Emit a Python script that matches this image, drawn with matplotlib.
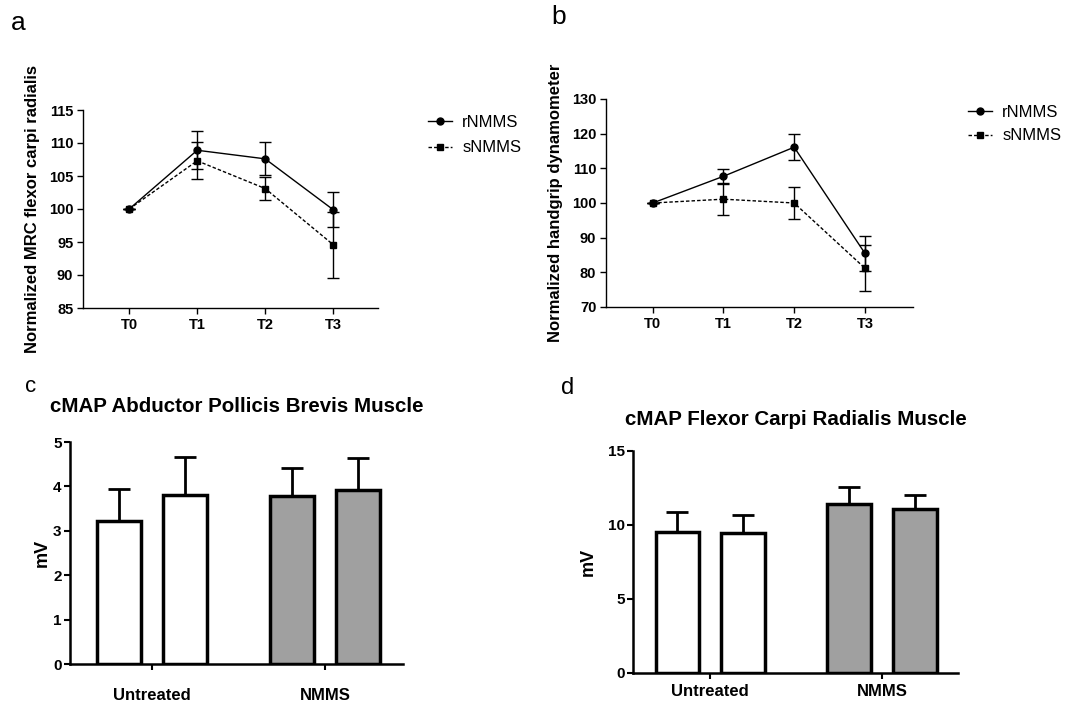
import matplotlib
matplotlib.use("Agg")
import matplotlib.pyplot as plt
from matplotlib.lines import Line2D
import numpy as np

plt.rcParams['font.family'] = ['Liberation Sans', 'DejaVu Sans']

# ---- data ----
time_labels = ["T0", "T1", "T2", "T3"]
series_names = ["rNMMS", "sNMMS"]

a_r = [100, 108.9, 107.6, 99.9]
a_r_err = [0, 2.9, 2.5, 2.7]
a_s = [100, 107.3, 103.1, 94.6]
a_s_err = [0, 2.8, 1.7, 5.0]

b_r = [100, 107.7, 116.1, 85.5]
b_r_err = [0, 2.1, 3.8, 5.0]
b_s = [100, 101.1, 100.0, 81.2]
b_s_err = [0, 4.7, 4.6, 6.6]

groups = ["Untreated", "NMMS"]
c_vals = [3.22, 3.80, 3.78, 3.92]
c_err = [0.73, 0.87, 0.64, 0.71]
d_vals = [9.55, 9.45, 11.45, 11.05]
d_err = [1.30, 1.20, 1.15, 0.95]
bar_colors = ["white", "white", "#a0a0a0", "#a0a0a0"]

W, H = 1065, 704
fig = plt.figure(figsize=(W / 100, H / 100), dpi=100)

DASH = (0, (2.5, 1.5))


def ax_px(l, t, r, b):
    return fig.add_axes([l / W, 1 - b / H, (r - l) / W, (b - t) / H])


def line_panel(ax, r, re, s, se, ylim, yticks, ylabel, xlim):
    x = np.arange(len(time_labels))
    ax.errorbar(x, r, yerr=re, color="black", lw=1.0, marker="o", ms=5,
                capsize=4.5, elinewidth=1.0, capthick=1.0)
    ax.errorbar(x, s, yerr=se, color="black", lw=1.0, ls=DASH, marker="s", ms=5,
                capsize=4.5, elinewidth=1.0, capthick=1.0)
    ax.set_ylim(*ylim)
    ax.set_xlim(*xlim)
    ax.set_yticks(yticks)
    ax.set_xticks(x)
    ax.set_xticklabels(time_labels, fontweight="bold", fontsize=10.5)
    for t in ax.get_yticklabels():
        t.set_fontweight("bold"); t.set_fontsize(10.5)
    ax.spines["top"].set_visible(False)
    ax.spines["right"].set_visible(False)
    for sp in ["left", "bottom"]:
        ax.spines[sp].set_linewidth(1.0)
    ax.tick_params(axis="both", length=4, width=1.0, pad=3)
    ax.set_ylabel(ylabel, fontweight="bold", fontsize=12, labelpad=6)


def add_legend(ax, anchor, spacing):
    handles = [Line2D([], [], color="black", lw=1.0, marker="o", ms=5),
               Line2D([], [], color="black", lw=1.0, ls=DASH, marker="s", ms=5)]
    ax.legend(handles, series_names, loc="upper left", bbox_to_anchor=anchor,
              frameon=False, fontsize=12, handlelength=1.45, handletextpad=0.6,
              labelspacing=spacing, borderaxespad=0, borderpad=0)


def bar_panel(ax, vals, err, ylim, yticks, title, xlim, ticklabel_pad, ylabelpad, tpad):
    pos = []
    for g in range(len(groups)):
        pos += [g - 0.19, g + 0.19]
    ax.bar(pos, vals, width=0.254, color=bar_colors, edgecolor="black", linewidth=2.5, zorder=2)
    ax.errorbar(pos, vals, yerr=[np.zeros(len(vals)), err], fmt="none", ecolor="black",
                elinewidth=2.0, capsize=8, capthick=2.0, zorder=1)
    ax.set_ylim(*ylim)
    ax.set_xlim(*xlim)
    ax.set_yticks(yticks)
    ax.set_xticks(range(len(groups)))
    ax.set_xticklabels(groups, fontweight="bold", fontsize=12)
    for t in ax.get_yticklabels():
        t.set_fontweight("bold"); t.set_fontsize(11)
    ax.spines["top"].set_visible(False)
    ax.spines["right"].set_visible(False)
    for sp in ["left", "bottom"]:
        ax.spines[sp].set_linewidth(1.8)
    ax.tick_params(axis="y", length=4, width=1.5, pad=2)
    ax.tick_params(axis="x", length=4, width=1.5, pad=ticklabel_pad)
    ax.set_ylabel("mV", fontweight="bold", fontsize=13, labelpad=ylabelpad)
    ax.set_title(title, fontweight="bold", fontsize=14.8, pad=tpad)


# panel a
axa = ax_px(83, 110, 378, 308)
line_panel(axa, a_r, a_r_err, a_s, a_s_err, (85, 115), range(85, 116, 5),
           "Normalized MRC flexor carpi radialis", (-0.68, 3.66))
add_legend(axa, ((428 - 83) / 295, (308 - 115) / 198), 0.62)
fig.text(18 / W, 1 - 23 / H, "a", fontsize=19, va="center", ha="center")

# panel b
axb = ax_px(606, 99, 913, 307)
line_panel(axb, b_r, b_r_err, b_s, b_s_err, (70, 130), range(70, 131, 10),
           "Normalized handgrip dynamometer", (-0.66, 3.68))
add_legend(axb, ((968 - 606) / 307, (307 - 105) / 208), 0.5)
fig.text(559 / W, 1 - 17 / H, "b", fontsize=19, va="center", ha="center")

# panel c
axc = ax_px(70, 442, 403, 664)
bar_panel(axc, c_vals, c_err, (0, 5), range(0, 6),
          "cMAP Abductor Pollicis Brevis Muscle", (-0.474, 1.451), 13, 1.5, 21.5)
fig.text(31 / W, 1 - 386 / H, "c", fontsize=16, va="center", ha="center")

# panel d
axd = ax_px(633, 451, 958, 673)
bar_panel(axd, d_vals, d_err, (0, 15), [0, 5, 10, 15],
          "cMAP Flexor Carpi Radialis Muscle", (-0.448, 1.442), 4, 8, 19)
fig.text(568 / W, 1 - 388 / H, "d", fontsize=17, va="center", ha="center")

fig.savefig("out.png", dpi=100)
